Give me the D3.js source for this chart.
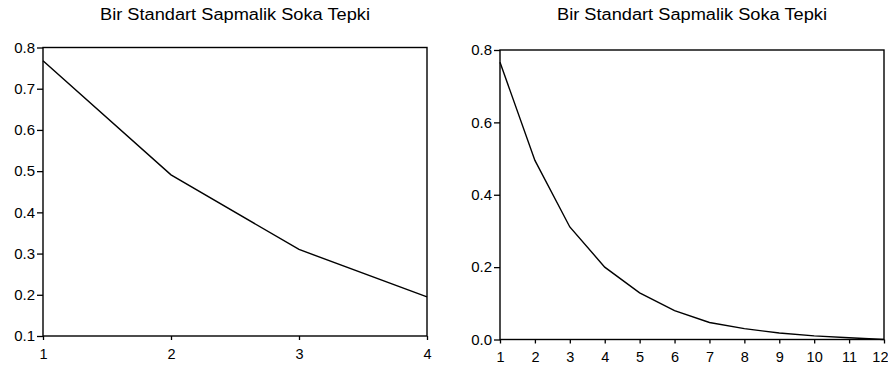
<!DOCTYPE html>
<html>
<head>
<meta charset="utf-8">
<script src="https://cdn.jsdelivr.net/npm/d3@7"></script>
<style>
  body { margin: 0; background: #fff; }
  svg text { font-family: "Liberation Sans", Arial, sans-serif; fill: #000; }
  .axis path, .axis line { stroke: #000; stroke-width: 1.3; }
</style>
</head>
<body>
<div id="chart"></div>
<script>
var titleText = "Bir Standart Sapmalik Soka Tepki";

// left panel: 4 periods
var leftPeriods = [1, 2, 3, 4];
var leftValues  = [0.768, 0.491, 0.310, 0.195];
var leftYTicks  = [0.1, 0.2, 0.3, 0.4, 0.5, 0.6, 0.7, 0.8];

// right panel: 12 periods
var rightPeriods = [1, 2, 3, 4, 5, 6, 7, 8, 9, 10, 11, 12];
var rightValues  = [0.766, 0.495, 0.311, 0.200, 0.129, 0.080, 0.047, 0.030, 0.018, 0.010, 0.005, 0.000];
var rightYTicks  = [0.0, 0.2, 0.4, 0.6, 0.8];

var W = 888, H = 368;

var svg = d3.select("#chart").append("svg")
  .attr("width", W)
  .attr("height", H);

function panel(box, periods, values, yDomain, yTicks) {
  var x = d3.scaleLinear().domain([periods[0], periods[periods.length - 1]])
    .range([box.left, box.right]);
  var y = d3.scaleLinear().domain(yDomain).range([box.bottom, box.top]);

  // the scanned titles are a bit stretched, so fix their width
  svg.append("text")
    .attr("x", (box.left + box.right) / 2)
    .attr("y", 20)
    .attr("text-anchor", "middle")
    .attr("textLength", 270)
    .attr("lengthAdjust", "spacingAndGlyphs")
    .attr("font-size", 16)
    .text(titleText);

  // frame
  svg.append("rect")
    .attr("x", box.left).attr("y", box.top)
    .attr("width", box.right - box.left)
    .attr("height", box.bottom - box.top)
    .attr("fill", "none")
    .attr("stroke", "#000")
    .attr("stroke-width", 1.4);

  var yAxis = d3.axisLeft(y).tickValues(yTicks)
    .tickFormat(d3.format(".1f"))
    .tickSizeInner(6).tickSizeOuter(0).tickPadding(2);
  var gy = svg.append("g").attr("class", "axis")
    .attr("transform", "translate(" + box.left + ",0)")
    .call(yAxis)
    .attr("font-size", 15)
    .attr("font-family", "Liberation Sans, Arial, sans-serif");
  gy.select(".domain").remove();

  var xAxis = d3.axisBottom(x).tickValues(periods)
    .tickFormat(d3.format("d"))
    .tickSizeInner(4).tickSizeOuter(0).tickPadding(box.xPad);
  var gx = svg.append("g").attr("class", "axis")
    .attr("transform", "translate(0," + box.bottom + ")")
    .call(xAxis)
    .attr("font-size", 14.5)
    .attr("font-family", "Liberation Sans, Arial, sans-serif");
  gx.select(".domain").remove();

  // keep the last label inside the window
  var last = gx.selectAll(".tick").filter(function(d) { return d === periods[periods.length - 1]; });
  if (box.right + 8 > W) {
    last.select("text").attr("text-anchor", "end").attr("x", W - box.right);
  }

  var line = d3.line()
    .x(function(d, i) { return x(periods[i]); })
    .y(function(d) { return y(d); });

  svg.append("path")
    .datum(values)
    .attr("d", line)
    .attr("fill", "none")
    .attr("stroke", "#000")
    .attr("stroke-width", 1.4);
}

panel({ left: 43, right: 427, top: 47.5, bottom: 336, xPad: 9 },
  leftPeriods, leftValues, [0.1, 0.8], leftYTicks);
panel({ left: 500, right: 884, top: 50, bottom: 339.5, xPad: 8 },
  rightPeriods, rightValues, [0, 0.8], rightYTicks);
</script>
</body>
</html>
